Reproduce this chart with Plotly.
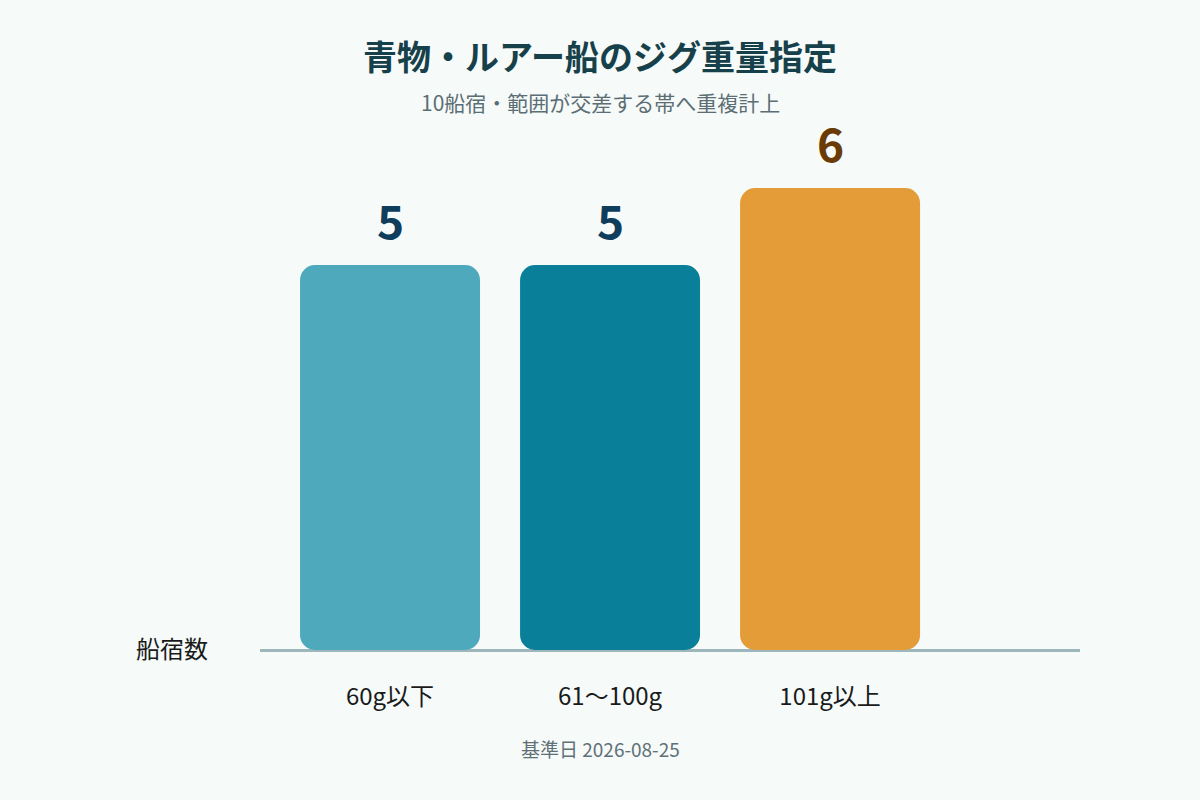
import plotly.graph_objects as go

categories = ["60g以下", "61〜100g", "101g以上"]
values = [5, 5, 6]
bar_colors = ["#4fa9bd", "#0a7f9a", "#e39c37"]
label_colors = ["#0f3d5c", "#0f3d5c", "#6b3b06"]

title_text = "青物・ルアー船のジグ重量指定"
subtitle_text = "10船宿・範囲が交差する帯へ重複計上"
footer_text = "基準日 2026-08-25"
y_label = "船宿数"

FONT = "Noto Sans CJK JP"
BG = "#f6faf9"
xs = list(range(len(categories)))

fig = go.Figure()
fig.add_trace(go.Bar(
    x=xs, y=values, base=[0] * len(values),
    marker=dict(color=bar_colors, line=dict(width=0)), width=0.818,
    hoverinfo="skip", showlegend=False))

for x, v, c in zip(xs, values, label_colors):
    fig.add_annotation(x=x, y=v, text=f"<b>{v}</b>", showarrow=False, yshift=46,
                       font=dict(family=FONT, size=46, color=c))

fig.add_annotation(xref="paper", yref="y", x=0, y=0, xanchor="right", yanchor="middle",
                   xshift=-50, yshift=3, text=y_label, showarrow=False,
                   font=dict(family=FONT, size=24, color="#1a1a1a"))

cx = (600 - 260) / 820
fig.add_annotation(xref="paper", yref="paper", x=cx, y=(650 - 55) / 520,
                   text=f"<b>{title_text}</b>", showarrow=False, yanchor="middle",
                   font=dict(family=FONT, size=34, color="#17414a"))
fig.add_annotation(xref="paper", yref="paper", x=cx, y=(650 - 102) / 520,
                   text=subtitle_text, showarrow=False, yanchor="middle",
                   font=dict(family=FONT, size=21, color="#5b6e74"))
fig.add_annotation(xref="paper", yref="paper", x=cx, y=(650 - 748) / 520,
                   text=footer_text, showarrow=False, yanchor="middle",
                   font=dict(family=FONT, size=19, color="#5f7177"))

fig.update_layout(
    width=1200, height=800,
    margin=dict(l=260, r=120, t=130, b=150),
    paper_bgcolor=BG, plot_bgcolor=BG,
    barmode="overlay", barcornerradius=15,
    font=dict(family=FONT),
    xaxis=dict(range=[-0.591, 3.136], tickvals=xs, ticktext=categories,
               showgrid=False, zeroline=False, showline=False, ticks="",
               ticklabelstandoff=30,
               tickfont=dict(family=FONT, size=24, color="#1a1a1a")),
    yaxis=dict(range=[0, 520 / 77], showgrid=False, showticklabels=False,
               zeroline=True, zerolinecolor="#9db7bd", zerolinewidth=3,
               showline=False, ticks=""),
)

fig.write_html(
    "out.html",
    config={"displayModeBar": False},
    post_script="document.body.style.margin='0';document.body.style.background='" + BG + "';",
)
